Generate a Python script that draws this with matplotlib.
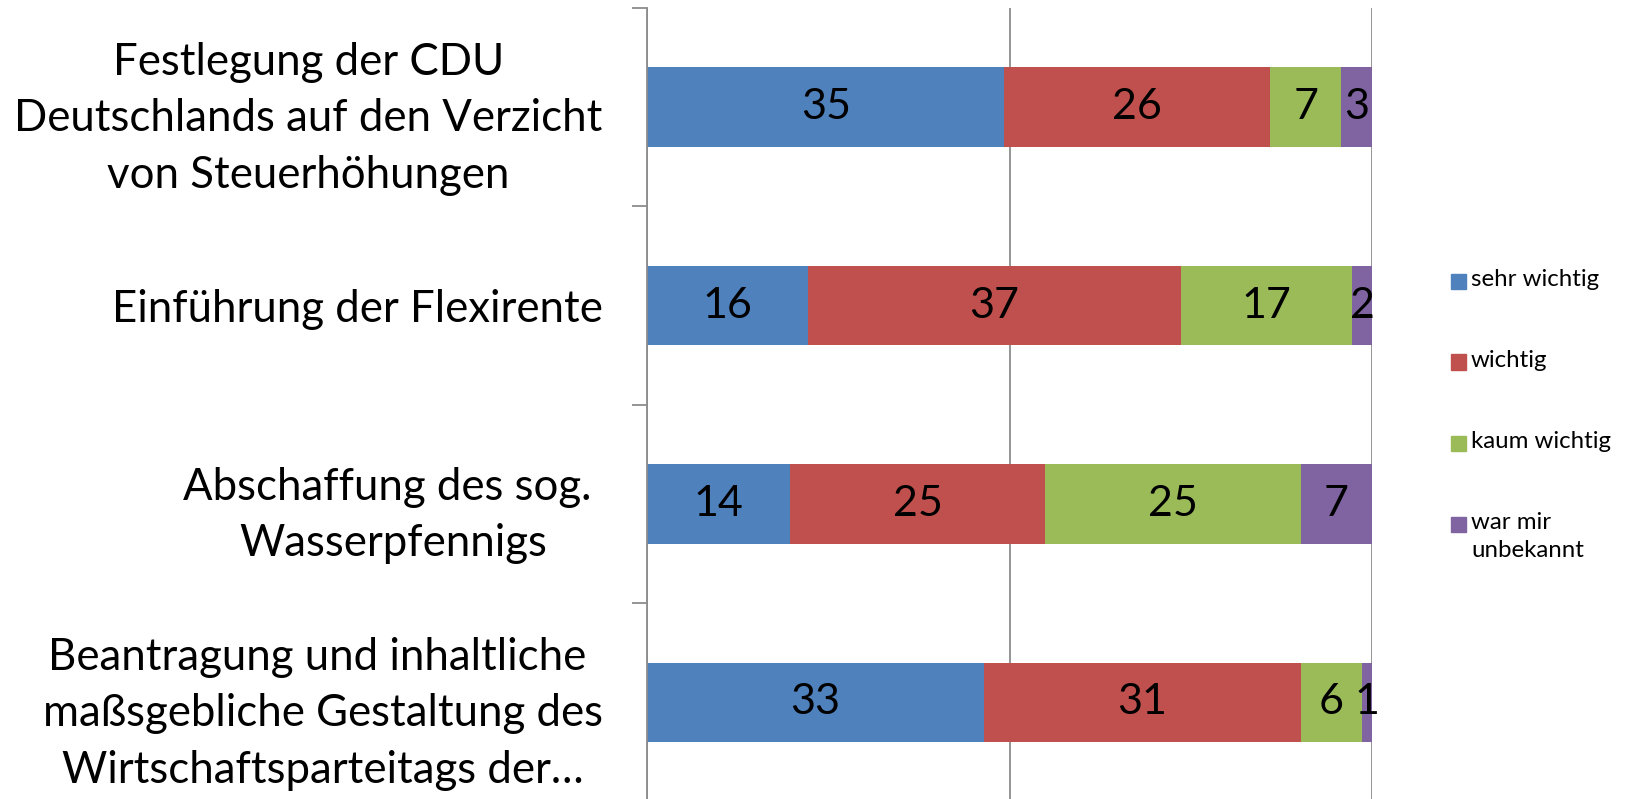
import matplotlib
matplotlib.use("Agg")
import matplotlib.pyplot as plt
from matplotlib.patches import Rectangle
import numpy as np

CATEGORIES = [
    "Festlegung der CDU\nDeutschlands auf den Verzicht\nvon Steuerhöhungen",
    "Einführung der Flexirente",
    "Abschaffung des sog. \nWasserpfennigs",
    "Beantragung und inhaltliche \nmaßsgebliche Gestaltung des\nWirtschaftsparteitags der…",
]
SERIES = ["sehr wichtig", "wichtig", "kaum wichtig", "war mir\nunbekannt"]
SEHR_WICHTIG = [35, 16, 14, 33]
WICHTIG = [26, 37, 25, 31]
KAUM_WICHTIG = [7, 17, 25, 6]
UNBEKANNT = [3, 2, 7, 1]

COLORS = ["#4F81BD", "#C0504D", "#9BBB59", "#8064A2"]
GRID = "#8c8c8c"
FONT = "Lato"

plt.rcParams["font.family"] = [FONT, "DejaVu Sans"]

values = np.array([SEHR_WICHTIG, WICHTIG, KAUM_WICHTIG, UNBEKANNT], dtype=float)
shares = values / values.sum(axis=0)
ypos = np.arange(len(CATEGORIES))[::-1]

W, H = 1627, 799
fig = plt.figure(figsize=(W / 100, H / 100), dpi=100)
ax = fig.add_axes([0.3977, -0.003, 0.4456, 0.993])

left = np.zeros(len(CATEGORIES))
for i, name in enumerate(SERIES):
    ax.barh(ypos, shares[i], left=left, height=0.4, color=COLORS[i], zorder=2)
    for y, l, w, v in zip(ypos, left, shares[i], values[i]):
        ax.text(l + w / 2, y, f"{int(v)}", ha="center", va="center",
                fontsize=31, color="black", zorder=3)
    left += shares[i]

ax.set_xlim(0, 1)
ax.set_ylim(-0.5, len(CATEGORIES) - 0.5)
ax.set_xticks([0, 0.5, 1])
ax.set_xticklabels([])
ax.tick_params(axis="x", length=0)
ax.grid(axis="x", color=GRID, linewidth=1.3, zorder=1)

ax.set_yticks(np.arange(-0.5, len(CATEGORIES), 1))
ax.set_yticklabels([])
ax.tick_params(axis="y", which="major", length=11, width=1.3, color=GRID)
ax.set_yticks(ypos, minor=True)
ax.set_yticklabels(CATEGORIES, minor=True, fontsize=31.5, multialignment="center",
                   linespacing=1.47)
ax.tick_params(axis="y", which="minor", length=0, pad=32)

for s in ["top", "right", "bottom"]:
    ax.spines[s].set_visible(False)
ax.spines["left"].set_color(GRID)
ax.spines["left"].set_linewidth(1.3)

# legend drawn by hand so the two-line entry keeps its key on the first line
key_x, text_x, key_size = 1451, 1471, 15
row_y = [281, 362, 443, 524]
for c, label, y in zip(COLORS, SERIES, row_y):
    fig.add_artist(Rectangle(((key_x) / W, 1 - (y + key_size / 2) / H),
                             key_size / W, key_size / H,
                             transform=fig.transFigure, color=c))
    fig.text(text_x / W, 1 - (y - 12) / H, label, ha="left", va="top",
             fontsize=17.3, linespacing=1.4)

fig.savefig("out.png", dpi=100, facecolor="white")
